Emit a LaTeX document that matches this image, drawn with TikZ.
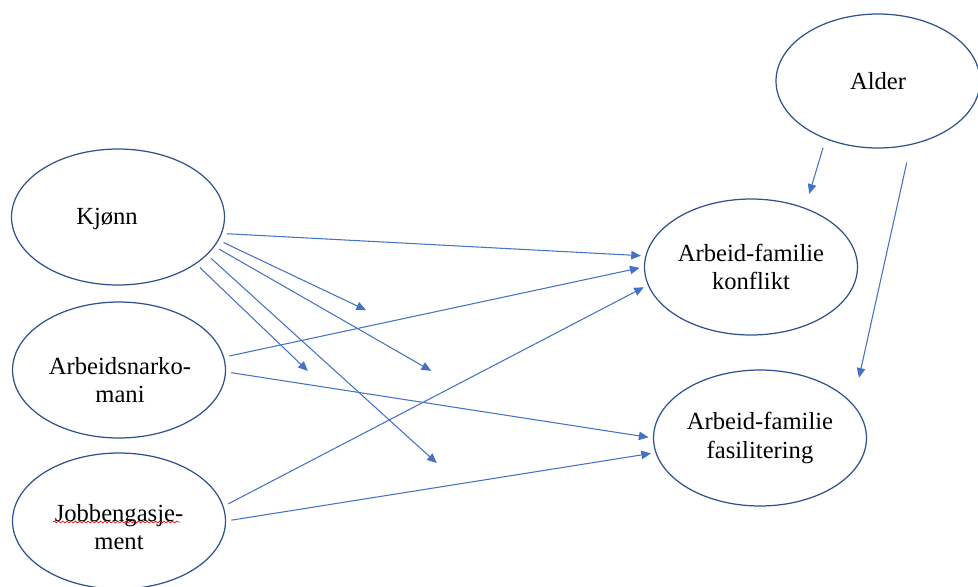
\documentclass[tikz,border=0pt]{standalone}
\usepackage{fontspec}
\setmainfont{Liberation Serif}
\usetikzlibrary{shapes.geometric,arrows.meta,decorations.pathmorphing}
\definecolor{ovalblaa}{HTML}{2F528F}
\definecolor{linjeblaa}{HTML}{4472C4}
\tikzset{
  tekst/.style={align=center, inner sep=0pt, font=\fontsize{14}{16.4}\selectfont},
  var/.style={ellipse, draw=ovalblaa, line width=.7pt, inner sep=0pt,
    minimum width=4.26cm, minimum height=2.72cm, tekst},
  pil/.style={draw=linjeblaa, line width=.6pt, -{Triangle[length=5.5pt,width=4.8pt]},
    shorten <=3pt, shorten >=2.5pt}
}

\begin{document}
\begin{tikzpicture}[x=0.02cm,y=-0.02cm]
\useasboundingbox (0,0) rectangle (978,586);
\node[var] (kjonn) at (118,217) {};
\node[var] (narko) at (119,370) {};
\node[var] (jobb) at (119,521) {};
\node[var] (konflikt) at (751,267) {Arbeid-familie\\konflikt};
\node[var] (fasil) at (760,438) {Arbeid-familie\\fasilitering};
\node[var, minimum width=4.08cm, minimum height=2.68cm] (alder) at (878,81) {Alder};
% tekst litt forskjøvet i ovalene
\node[tekst] (kjonntekst) at ([shift={(-11,2)}]kjonn) {Kjønn};
\node[tekst] (narkotekst) at ([shift={(1,10)}]narko) {Arbeidsnarko-\\mani};
\node[tekst] (jobbtekst) at ([shift={(0,6)}]jobb) {Jobbengasje-\\ment};
% loose arrow ends
\coordinate (k1) at (370,312);
\coordinate (k2) at (435,373);
\coordinate (k3) at (440,466);
\coordinate (k4) at (311,374);
\coordinate (a1) at (808,198);
\coordinate (a2) at (858,382);
% Kjonn
\draw[pil] (kjonn.-9) -- (konflikt.174);
\draw[pil] (kjonn.-13) -- (k1);
\draw[pil] (kjonn.-17) -- (k2);
\draw[pil] (kjonn.-23) -- (k3);
\draw[pil] (kjonn.-31) -- (k4);
% Arbeidsnarkomani og Jobbengasjement
\draw[pil] (narko.7) -- (konflikt.180);
\draw[pil] (narko.-1) -- (fasil.180);
\draw[pil] (jobb.8) -- (konflikt.-170);
\draw[pil] (jobb.0) -- (fasil.-172);
% Alder
\draw[pil, shorten <=0.18cm] (alder.-132) -- (a1);
\draw[pil, shorten <=0.36cm] (alder.-63) -- (a2);
% stavekontroll
\draw[red, line width=.4pt, decorate, decoration={snake, amplitude=.5pt, segment length=2.4pt}]
  ([shift={(-66,1)}]jobb.center) -- ([shift={(61,1)}]jobb.center);
\end{tikzpicture}
\end{document}
